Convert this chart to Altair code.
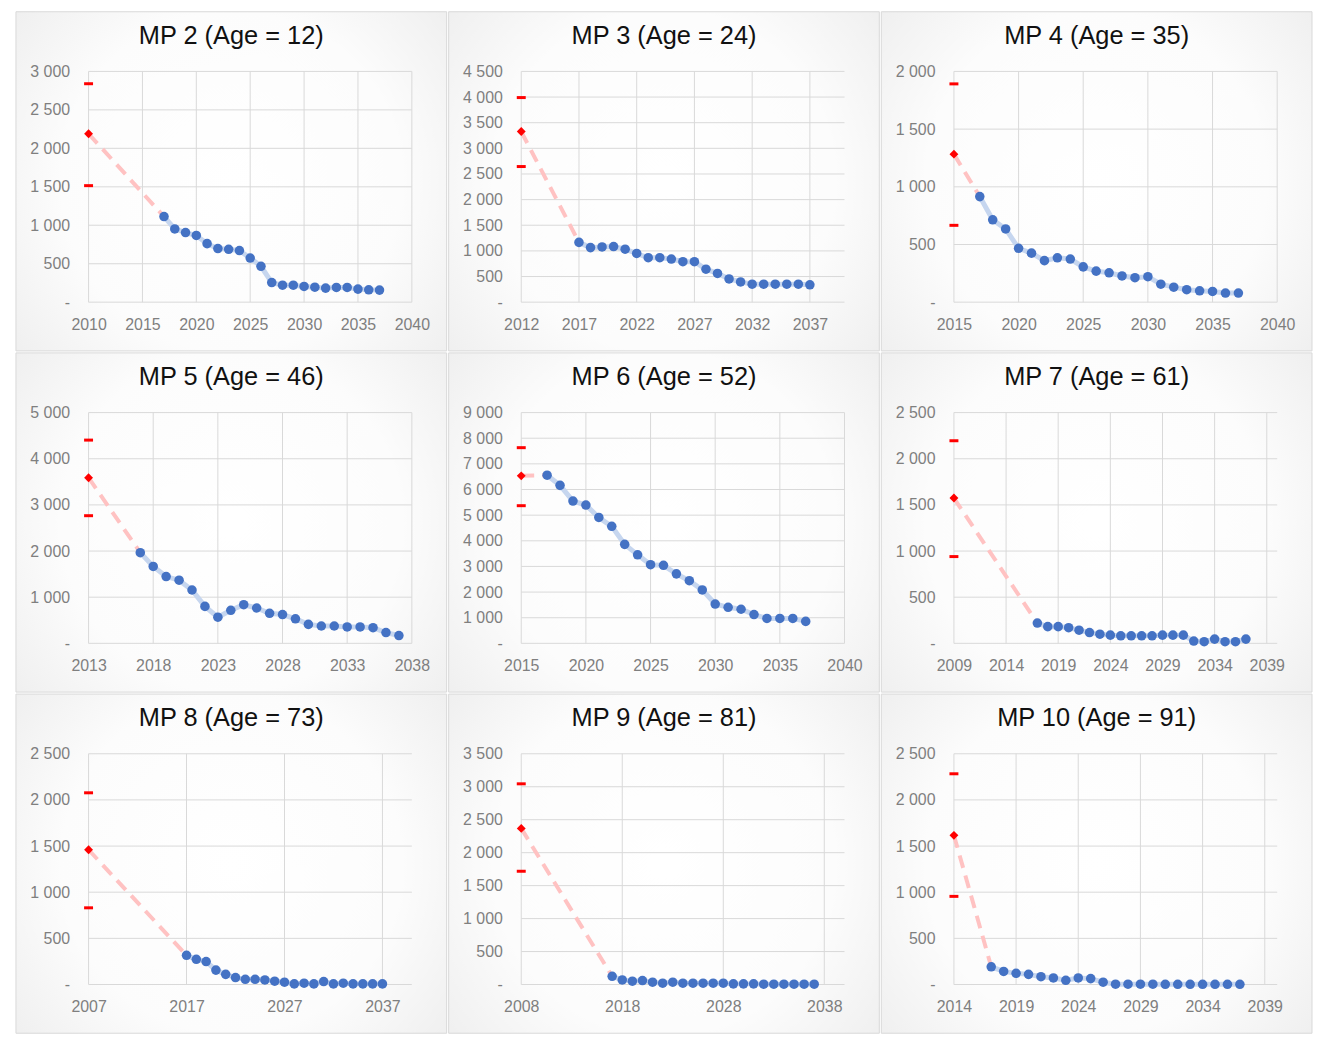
import altair as alt
import pandas as pd

# ---------------- data ----------------
mp_names = ["MP 2", "MP 3", "MP 4", "MP 5", "MP 6", "MP 7", "MP 8", "MP 9", "MP 10"]
ages = [12, 24, 35, 46, 52, 61, 73, 81, 91]

start_years = [2010, 2012, 2015, 2013, 2015, 2009, 2007, 2008, 2014]
end_years = [2040, 2040, 2040, 2038, 2040, 2040, 2040, 2040, 2040]
x_ticks = [
    [2010, 2015, 2020, 2025, 2030, 2035, 2040],
    [2012, 2017, 2022, 2027, 2032, 2037],
    [2015, 2020, 2025, 2030, 2035, 2040],
    [2013, 2018, 2023, 2028, 2033, 2038],
    [2015, 2020, 2025, 2030, 2035, 2040],
    [2009, 2014, 2019, 2024, 2029, 2034, 2039],
    [2007, 2017, 2027, 2037],
    [2008, 2018, 2028, 2038],
    [2014, 2019, 2024, 2029, 2034, 2039],
]
y_max = [3000, 4500, 2000, 5000, 9000, 2500, 2500, 3500, 2500]
y_steps = [500, 500, 500, 1000, 1000, 500, 500, 500, 500]

# observed value at the first year (red diamond) with its interval
observed = [2190, 3327, 1283, 3589, 6533, 1574, 1460, 2368, 1616]
obs_upper = [2840, 3990, 1892, 4404, 7632, 2195, 2077, 3044, 2283]
obs_lower = [1515, 2645, 666, 2766, 5369, 940, 831, 1718, 955]

proj_years = [2017, 2018, 2019, 2020, 2021, 2022, 2023, 2024, 2025, 2026, 2027,
              2028, 2029, 2030, 2031, 2032, 2033, 2034, 2035, 2036, 2037]

mp2 = [1113, 952, 905, 867, 761, 697, 688, 671, 574, 467, 255,
       221, 221, 204, 195, 183, 191, 191, 170, 161, 157]
mp3 = [1166, 1064, 1077, 1084, 1033, 950, 867, 867, 841, 790, 790,
       644, 561, 453, 395, 351, 351, 351, 351, 351, 338]
mp4 = [915, 714, 635, 467, 425, 360, 385, 374, 306, 269, 255,
       227, 212, 221, 156, 130, 108, 99, 93, 79, 79]
mp5 = [1965, 1667, 1447, 1369, 1156, 801, 567, 716, 837, 766, 652,
       624, 532, 411, 376, 376, 355, 355, 340, 234, 170]
mp6 = [6558, 6162, 5548, 5395, 4909, 4564, 3861, 3452, 3068, 3043, 2710,
       2442, 2084, 1534, 1406, 1330, 1125, 972, 972, 972, 857]
mp7 = [220, 181, 181, 170, 142, 117, 99, 89, 82, 82, 82,
       82, 89, 89, 89, 25, 18, 46, 18, 18, 46]
mp8 = [316, 273, 249, 156, 110, 75, 57, 57, 50, 36, 25,
       7, 14, 7, 32, 7, 14, 7, 7, 7, 7]
mp9 = [124, 70, 50, 60, 35, 20, 35, 20, 20, 20, 20,
       20, 10, 10, 10, 5, 5, 5, 5, 5, 5]
mp10 = [192, 142, 121, 110, 85, 71, 46, 71, 64, 25, 4,
        4, 4, 4, 2, 2, 2, 2, 2, 2, 2]
projections = [mp2, mp3, mp4, mp5, mp6, mp7, mp8, mp9, mp10]

# ---------------- styling ----------------
W, H = 325, 232
LEFT, RIGHT, TOP, BOTTOM = 73, 35, 60, 49
FONT = "Liberation Sans"
LABEL_COLOR = "#7f7f7f"
GRID = "#d9d9d9"
BLUE = "#4472c4"
BLUE_LINE = "#c6d6ef"
PINK = "#ffc2c2"
RED = "#ff0000"

panel_fill = alt.RadialGradient(
    gradient="radial",
    stops=[
        alt.GradientStop(offset=0, color="#ffffff"),
        alt.GradientStop(offset=0.55, color="#fcfcfc"),
        alt.GradientStop(offset=1, color="#ebebeb"),
    ],
    x1=0.5, y1=0.5, x2=0.5, y2=0.5, r1=0, r2=0.72,
)

Y_LABEL_EXPR = ("datum.value == 0 ? '-\u00a0\u00a0\u00a0' : "
                "replace(format(datum.value, ','), ',', ' ')")


def panel(i):
    x0, x1 = start_years[i], end_years[i]
    xs = alt.Scale(domain=[x0, x1], nice=False, zero=False)
    ys = alt.Scale(domain=[0, y_max[i]], nice=False, zero=True)
    y_ticks = list(range(0, y_max[i] + 1, y_steps[i]))

    xaxis = alt.Axis(values=x_ticks[i], format="d", grid=False, ticks=False,
                     tickSize=0, domain=False, labelPadding=14, labelFontSize=16,
                     labelColor=LABEL_COLOR, labelFont=FONT, labelFlush=False,
                     labelOverlap=False, zindex=1, title=None)
    yaxis = alt.Axis(values=y_ticks, labelExpr=Y_LABEL_EXPR, grid=False,
                     ticks=False, tickSize=0, domain=False, labelPadding=19,
                     labelFontSize=16, labelColor=LABEL_COLOR, labelFont=FONT,
                     labelOverlap=False, zindex=1, title=None)

    X = alt.X("year:Q", scale=xs, axis=xaxis)
    Y = alt.Y("value:Q", scale=ys, axis=yaxis)

    one = pd.DataFrame({"k": [0]})
    bg = alt.Chart(one).mark_rect(fill=panel_fill, stroke=GRID, strokeWidth=1).encode(
        x=alt.value(-LEFT), x2=alt.value(W + RIGHT),
        y=alt.value(-TOP), y2=alt.value(H + BOTTOM),
    )
    hgrid = alt.Chart(pd.DataFrame({"value": y_ticks})).mark_rule(
        color=GRID, strokeWidth=1).encode(y=Y)
    vgrid = alt.Chart(pd.DataFrame({"year": x_ticks[i]})).mark_rule(
        color=GRID, strokeWidth=1).encode(x=X)

    proj = pd.DataFrame({"year": proj_years, "value": projections[i]})
    link = pd.DataFrame({"year": [x0, proj_years[0]],
                         "value": [observed[i], projections[i][0]]})
    errs = pd.DataFrame({"year": [x0, x0], "value": [obs_upper[i], obs_lower[i]]})
    obs = pd.DataFrame({"year": [x0], "value": [observed[i]]})

    link_line = alt.Chart(link).mark_line(
        color=PINK, strokeWidth=4, strokeDash=[13, 8]).encode(x=X, y=Y)
    proj_line = alt.Chart(proj).mark_line(
        color=BLUE_LINE, strokeWidth=5).encode(x=X, y=Y)
    proj_pts = alt.Chart(proj).mark_circle(
        color=BLUE, size=92, opacity=1).encode(x=X, y=Y)
    err_ticks = alt.Chart(errs).mark_tick(
        color=RED, orient="horizontal", size=9, thickness=3, opacity=1).encode(x=X, y=Y)
    diamond = alt.Chart(obs).mark_point(
        shape="diamond", filled=True, color=RED, size=80, opacity=1).encode(x=X, y=Y)

    title_text = f"{mp_names[i]} (Age = {ages[i]})"
    ttl = alt.Chart(one).mark_text(
        font=FONT, fontSize=25.5, color="#111111", align="center", baseline="middle"
    ).encode(
        x=alt.value((W + RIGHT - LEFT) / 2), y=alt.value(-TOP + 24),
        text=alt.value(title_text),
    )

    return alt.layer(bg, hgrid, vgrid, link_line, proj_line, proj_pts,
                     err_ticks, diamond, ttl).properties(width=W, height=H)


rows = [alt.hconcat(*[panel(r * 3 + c) for c in range(3)], spacing=0) for r in range(3)]
chart = alt.vconcat(*rows, spacing=0).properties(
    padding={"left": 7, "top": 0, "right": 0, "bottom": 0},
    background="white",
).configure_view(stroke="transparent").configure_concat(spacing=0)

chart.save("out.html", embed_options={"renderer": "svg", "actions": False})
